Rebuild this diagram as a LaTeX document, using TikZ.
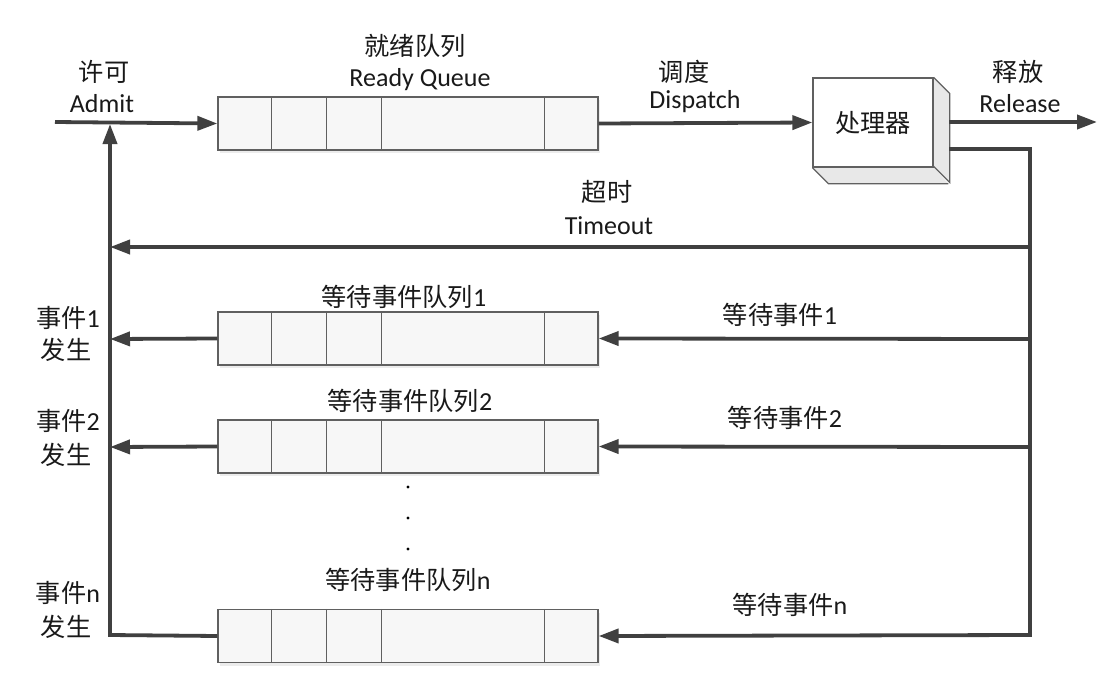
\documentclass[tikz,border=0pt]{standalone}
\usepackage{fontspec}
\setmainfont{Carlito}
\newfontfamily\cjk[Scale=0.97]{Noto Sans CJK SC}
\usetikzlibrary{arrows.meta,shadows,backgrounds}
\newcommand{\zh}[1]{{\cjk #1}}
\definecolor{ln}{HTML}{404040}
\definecolor{bd}{HTML}{606060}
\tikzset{
  lbl/.style={font=\fontsize{26}{30}\selectfont, text=black!90, inner sep=0pt},
  queue/.style={draw=bd, line width=1.3pt, fill=gray!6, minimum width=380pt, minimum height=53pt, inner sep=0pt,
     drop shadow={opacity=0.15, shadow xshift=2pt, shadow yshift=-3pt}},
  flow/.style={draw=ln, line width=3.8pt},
  arr/.style={flow, -{Triangle[length=20pt,width=14pt]}},
  face/.style={draw=bd, line width=1.3pt},
}
\begin{document}
\begin{tikzpicture}[x=1pt,y=-1pt]
\useasboundingbox (0,0) rectangle (1120,696);
% queues
\node[queue] (rq) at (408,123.5) {};
\node[queue] (wq1) at (408,338.5) {};
\node[queue] (wq2) at (408,446.5) {};
\node[queue] (wqn) at (408,636) {};
\foreach \q in {rq,wq1,wq2,wqn}{
  \foreach \d in {54,109,164,327}{
    \draw[bd, line width=1.3pt] ([xshift=\d pt]\q.north west) -- ([xshift=\d pt]\q.south west);
  }
}
% processor
\node[face, fill=white, minimum width=120pt, minimum height=89pt, inner sep=0pt] (cpu) at (873,122.5) {};
\node[lbl] at (cpu.center) {\zh{处理器}};
\fill[gray!18] (cpu.north east) -- ++(16,16) -- ++(0,89) -- ++(-16,-16) -- cycle;
\fill[gray!18] (cpu.south west) -- ++(16,16) -- ++(120,0) -- (cpu.south east) -- cycle;
\draw[face] (cpu.north east) -- ++(16,16) -- ++(0,89) -- ++(-16,-16);
\draw[face] (cpu.south west) -- ++(16,16) -- ++(120,0);
\draw[face] (cpu.north west) rectangle (cpu.south east);
% coordinates
\coordinate (in) at (55,122);
\coordinate (rel0) at (949,122);
\coordinate (rel) at (1097,122);
\coordinate (out0) at (949,149);
\coordinate (bus0) at (1030,149);
\coordinate (busT) at (1030,247);
\coordinate (bus1) at (1030,339);
\coordinate (bus2) at (1030,447);
\coordinate (busN) at (1030,635);
\coordinate (adm) at (110,124);
\coordinate (lT) at (110,247);
\coordinate (l1) at (110,339);
\coordinate (l2) at (110,447);
\coordinate (lN) at (110,635);
% connectors
\draw[arr] (in) -- (rq.west);
\draw[arr] (rq.east) -- (cpu.west);
\draw[arr] (rel0) -- (rel);
\draw[arr] (out0) -- (bus0) -- (busN) -- (wqn.east);
\draw[arr] (busT) -- (lT);
\draw[arr] (bus1) -- (wq1.east);
\draw[arr] (bus2) -- (wq2.east);
\draw[arr] (wq1.west) -- (l1);
\draw[arr] (wq2.west) -- (l2);
\draw[arr] (wqn.west) -- (lN) -- (adm);
% labels
\node[lbl] at (104,72) {\zh{许可}};
\node[lbl] at (102,104) {Admit};
\node[lbl] at (415,46) {\zh{就绪队列}};
\node[lbl] at (420,80) {Ready Queue};
\node[lbl] at (684,72) {\zh{调度}};
\node[lbl] at (695,102) {Dispatch};
\node[lbl] at (1018,72) {\zh{释放}};
\node[lbl] at (1020,104) {Release};
\node[lbl] at (607,192) {\zh{超时}};
\node[lbl] at (609,226) {Timeout};
\node[lbl] at (404,297) {\zh{等待事件队列}1};
\node[lbl] at (780,315) {\zh{等待事件}1};
\node[lbl] at (410,401) {\zh{等待事件队列}2};
\node[lbl] at (785,418) {\zh{等待事件}2};
\node[lbl] at (408,580) {\zh{等待事件队列}n};
\node[lbl] at (790,605) {\zh{等待事件}n};
\node[lbl] at (68,318) {\zh{事件}1};
\node[lbl] at (66,350) {\zh{发生}};
\node[lbl] at (68,421) {\zh{事件}2};
\node[lbl] at (66,455) {\zh{发生}};
\node[lbl] at (68,593) {\zh{事件}n};
\node[lbl] at (66,627) {\zh{发生}};
\foreach \y in {487,518,549} \fill[black] (408,\y) circle (1.6);
\end{tikzpicture}
\end{document}
